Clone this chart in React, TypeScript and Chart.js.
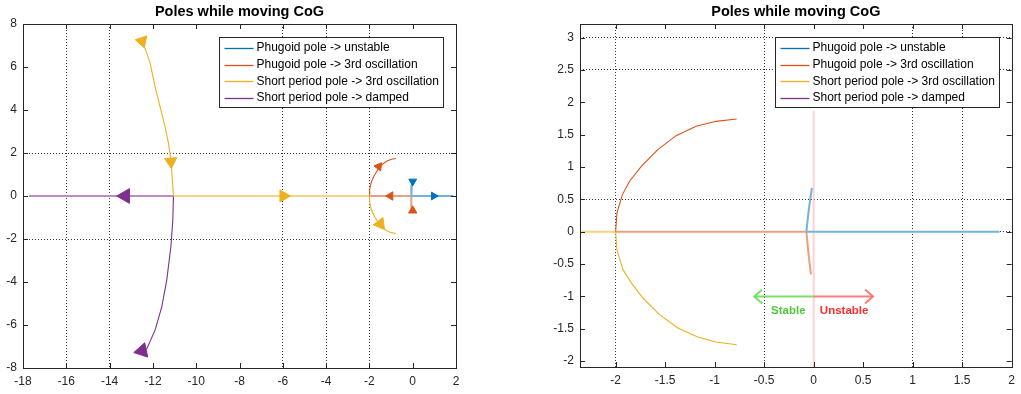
import React, { useEffect, useRef } from 'react';
import { Chart, registerables } from 'chart.js';

Chart.register(...registerables);
Chart.defaults.font.family = '"Liberation Sans", Arial, sans-serif';
Chart.defaults.font.size = 12;
Chart.defaults.color = '#262626';

type Pt = [number, number];
type Arrow = [number, number, number]; // x, y, direction of travel (deg, clockwise from up)

// ---------- series ----------
const seriesLabels = [
  'Phugoid pole -> unstable',
  'Phugoid pole -> 3rd oscillation',
  'Short period pole -> 3rd oscillation',
  'Short period pole -> damped',
];

// Phugoid pole -> unstable
const phugoidUnstableArc: Pt[] = [[-0.018, 0.677], [-0.035, 0.5], [-0.053, 0.29], [-0.073, 0]];
const phugoidUnstableAxis: Pt[] = [[-0.073, 0], [1.877, 0]];
const phugoidUnstableArrows: Arrow[] = [[0.97, 0, 90], [0.0, 0.68, 180]];

// Phugoid pole -> 3rd oscillation
const phugoidOscStart: Pt[] = [[-0.027, -0.66], [-0.04, -0.5], [-0.055, -0.3], [-0.073, 0]];
const phugoidOscAxis: Pt[] = [[-0.073, 0], [-2.0, 0]];
const phugoidOscArc: Pt[] = [
  [-2.0, 0], [-1.987, 0.29], [-1.933, 0.57], [-1.859, 0.78], [-1.741, 1.01],
  [-1.574, 1.27], [-1.389, 1.485], [-1.187, 1.63], [-0.986, 1.706], [-0.778, 1.743],
];
const phugoidOscArrows: Arrow[] = [[0.0, -0.68, 0], [-1.03, 0, 270], [-1.57, 1.37, 37]];

// Short period pole -> 3rd oscillation
const shortOscStart: Pt[] = [
  [-12.5, 7.2], [-12.3, 6.7], [-12.13, 6.18], [-11.9, 5.09], [-11.67, 4.16], [-11.44, 3.23],
  [-11.28, 2.45], [-11.17, 1.68], [-11.1, 0.75], [-11.05, 0],
];
const shortOscAxis: Pt[] = [[-11.05, 0], [-2.0, 0]];
const shortOscArc: Pt[] = [
  [-2.0, 0], [-1.987, -0.277], [-1.926, -0.586], [-1.842, -0.791], [-1.725, -1.024],
  [-1.557, -1.281], [-1.372, -1.487], [-1.171, -1.627], [-0.986, -1.704], [-0.778, -1.745],
];
const shortOscArrows: Arrow[] = [[-12.5, 7.2, 162], [-11.17, 1.6, 176], [-5.97, 0, 90], [-1.5, -1.3, 143]];

// Short period pole -> damped
const shortDampedStart: Pt[] = [
  [-12.5, -7.2], [-12.28, -7.1], [-11.9, -6.24], [-11.59, -5.16], [-11.36, -3.91],
  [-11.17, -2.36], [-11.08, -1.12], [-11.05, 0],
];
const shortDampedAxis: Pt[] = [[-11.05, 0], [-17.72, 0]];
const shortDampedArrows: Arrow[] = [[-13.28, 0, 270], [-12.5, -7.2, 18]];

// ---------- stability annotation (right panel) ----------
const stabilityBoundary: Pt[] = [[0, 1.87], [0, -2.09]];
const stableArrow: Pt[] = [[0, -1], [-0.6, -1]];
const unstableArrow: Pt[] = [[0, -1], [0.6, -1]];
const stabilityTexts = ['Stable', 'Unstable'];
const stabilityTextPos: Pt[] = [[-0.256, -1.22], [0.308, -1.22]];

// ---------- axes ----------
const leftXRange: Pt = [-18, 2];
const leftYRange: Pt = [-8, 8];
const leftXTicks = [-18, -16, -14, -12, -10, -8, -6, -4, -2, 0, 2];
const leftYTicks = [-8, -6, -4, -2, 0, 2, 4, 6, 8];
const leftXGrid = [-16, -14, -6, -4, -2];
const leftYGrid = [-2, 2];

const rightXRange: Pt = [-2.36, 2.0];
const rightYRange: Pt = [-2.09, 3.21];
const rightXTicks = [-2, -1.5, -1, -0.5, 0, 0.5, 1, 1.5, 2];
const rightYTicks = [-2, -1.5, -1, -0.5, 0, 0.5, 1, 1.5, 2, 2.5, 3];
const rightXGrid = [-2, -0.5, 1, 1.5];
const rightYGrid = [0, 0.5, 2.5, 3];

const titleText = 'Poles while moving CoG';

// ---------- styles ----------
const seriesColors = ['#0072BD', '#D95319', '#EDB120', '#7E2F8E'];
const axisSegColors = ['#73b2db', '#eaa080', '#f5d484', '#b88dc1'];
const arrowRadius = [4.5, 4.8, 7, 8.5];
const gridColor = 'rgba(30,30,30,0.9)';
const frameColor = '#262626';
const stableLine = 'rgba(110,220,90,0.9)';
const stableText = '#4fc93a';
const unstableLine = 'rgba(255,110,110,0.9)';
const unstableText = '#ff2d2d';
const boundaryColor = 'rgba(255,190,190,0.7)';

const toXY = (pts: Pt[]) => pts.map(([x, y]) => ({ x, y }));

function lineDs(points: Pt[], color: string, width: number, order = 1) {
  return {
    data: toXY(points),
    showLine: true,
    borderColor: color,
    backgroundColor: color,
    borderWidth: width,
    pointRadius: 0,
    pointHoverRadius: 0,
    tension: 0,
    order,
  };
}

function arrowDs(arrows: Arrow[], color: string, radius: number) {
  return {
    data: arrows.map(([x, y]) => ({ x, y })),
    showLine: false,
    pointStyle: 'triangle',
    pointRadius: radius,
    pointHoverRadius: radius,
    pointRotation: arrows.map((a) => a[2]),
    backgroundColor: color,
    borderColor: color,
    pointBorderWidth: 1,
    order: 0,
  };
}

const framePlugin = {
  id: 'matlabFrame',
  afterDraw(chart: any, _args: any, opts: any) {
    const { ctx, chartArea: a, scales } = chart;
    const xs = scales.x;
    const ys = scales.y;
    ctx.save();

    // stability annotation: arrow heads and labels
    if (opts.stability) {
      ctx.lineWidth = 2;
      const gx = xs.getPixelForValue(stableArrow[1][0]);
      const gy = ys.getPixelForValue(stableArrow[1][1]);
      ctx.strokeStyle = stableLine;
      ctx.beginPath();
      ctx.moveTo(gx + 8, gy - 7);
      ctx.lineTo(gx, gy);
      ctx.lineTo(gx + 8, gy + 7);
      ctx.stroke();
      const rx = xs.getPixelForValue(unstableArrow[1][0]);
      const ry = ys.getPixelForValue(unstableArrow[1][1]);
      ctx.strokeStyle = unstableLine;
      ctx.beginPath();
      ctx.moveTo(rx - 8, ry - 7);
      ctx.lineTo(rx, ry);
      ctx.lineTo(rx - 8, ry + 7);
      ctx.stroke();
      ctx.font = 'bold 11.5px "Liberation Sans", Arial, sans-serif';
      ctx.textAlign = 'center';
      ctx.textBaseline = 'middle';
      stabilityTexts.forEach((t, i) => {
        ctx.fillStyle = i === 0 ? stableText : unstableText;
        ctx.fillText(t, xs.getPixelForValue(stabilityTextPos[i][0]), ys.getPixelForValue(stabilityTextPos[i][1]));
      });
    }

    // inward tick marks on all four sides
    ctx.strokeStyle = frameColor;
    ctx.lineWidth = 1;
    ctx.beginPath();
    for (const t of xs.ticks) {
      const px = Math.round(xs.getPixelForValue(t.value)) + 0.5;
      ctx.moveTo(px, a.bottom);
      ctx.lineTo(px, a.bottom - 5);
      ctx.moveTo(px, a.top);
      ctx.lineTo(px, a.top + 5);
    }
    for (const t of ys.ticks) {
      const py = Math.round(ys.getPixelForValue(t.value)) + 0.5;
      ctx.moveTo(a.left, py);
      ctx.lineTo(a.left + 5, py);
      ctx.moveTo(a.right, py);
      ctx.lineTo(a.right - 5, py);
    }
    ctx.stroke();

    // axes box
    ctx.strokeRect(Math.round(a.left) + 0.5, Math.round(a.top) + 0.5, Math.round(a.right - a.left), Math.round(a.bottom - a.top));

    // legend
    const lw = 224;
    const lh = 70;
    const lx = Math.round(a.right - 13 - lw) + 0.5;
    const ly = Math.round(a.top + 13) + 0.5;
    ctx.fillStyle = '#ffffff';
    ctx.fillRect(lx, ly, lw, lh);
    ctx.strokeStyle = frameColor;
    ctx.strokeRect(lx, ly, lw, lh);
    ctx.font = '12px "Liberation Sans", Arial, sans-serif';
    ctx.textAlign = 'left';
    ctx.textBaseline = 'middle';
    seriesLabels.forEach((label, i) => {
      const y = ly + 10.4 + i * 16.67;
      ctx.strokeStyle = seriesColors[i];
      ctx.lineWidth = 1.3;
      ctx.beginPath();
      ctx.moveTo(lx + 5, Math.round(y) + 0.5);
      ctx.lineTo(lx + 34, Math.round(y) + 0.5);
      ctx.stroke();
      ctx.fillStyle = '#000000';
      ctx.fillText(label, lx + 37, y);
    });

    ctx.restore();
  },
};

interface PanelSpec {
  xRange: Pt;
  yRange: Pt;
  xTicks: number[];
  yTicks: number[];
  xGrid: number[];
  yGrid: number[];
  yWidth: number;
  xHeight: number;
  padRight: number;
  arrows: boolean;
  stability: boolean;
}

function buildConfig(p: PanelSpec): any {
  const datasets: any[] = [];
  if (p.arrows) {
    datasets.push(arrowDs(phugoidUnstableArrows, seriesColors[0], arrowRadius[0]));
    datasets.push(arrowDs(phugoidOscArrows, seriesColors[1], arrowRadius[1]));
    datasets.push(arrowDs(shortOscArrows, seriesColors[2], arrowRadius[2]));
    datasets.push(arrowDs(shortDampedArrows, seriesColors[3], arrowRadius[3]));
  }
  datasets.push(lineDs(phugoidUnstableArc, axisSegColors[0], 2));
  datasets.push(lineDs(phugoidUnstableAxis, axisSegColors[0], 2));
  datasets.push(lineDs(phugoidOscStart, axisSegColors[1], 2));
  datasets.push(lineDs(phugoidOscAxis, axisSegColors[1], 2));
  datasets.push(lineDs(phugoidOscArc, seriesColors[1], 1.1));
  datasets.push(lineDs(shortOscStart, seriesColors[2], 1.1));
  datasets.push(lineDs(shortOscAxis, axisSegColors[2], 2));
  datasets.push(lineDs(shortOscArc, seriesColors[2], 1.1));
  datasets.push(lineDs(shortDampedStart, seriesColors[3], 1.1));
  datasets.push(lineDs(shortDampedAxis, axisSegColors[3], 2));
  if (p.stability) {
    datasets.push(lineDs(stableArrow, stableLine, 2, 2));
    datasets.push(lineDs(unstableArrow, unstableLine, 2, 2));
    datasets.push(lineDs(stabilityBoundary, boundaryColor, 2, 3));
  }

  const gridOpt = (vals: number[]) => ({
    drawTicks: false,
    lineWidth: 1,
    color: (c: any) => (c.tick && vals.includes(c.tick.value) ? gridColor : 'rgba(0,0,0,0)'),
  });

  return {
    type: 'scatter',
    data: { datasets },
    options: {
      animation: false,
      responsive: false,
      events: [],
      layout: { padding: { top: 0, left: 0, bottom: 0, right: p.padRight } },
      plugins: {
        legend: { display: false },
        tooltip: { enabled: false },
        title: {
          display: true,
          text: titleText,
          fullSize: false,
          color: '#000000',
          font: { size: 14.5, weight: 'bold' },
          padding: { top: 3, bottom: 3.6 },
        },
        matlabFrame: { stability: p.stability },
      },
      scales: {
        x: {
          type: 'linear',
          position: 'bottom',
          min: p.xRange[0],
          max: p.xRange[1],
          afterBuildTicks: (s: any) => {
            s.ticks = p.xTicks.map((v) => ({ value: v }));
          },
          afterFit: (s: any) => {
            s.height = p.xHeight;
          },
          ticks: { padding: 6, autoSkip: false, maxRotation: 0, color: '#262626', callback: (v: any) => String(v) },
          grid: gridOpt(p.xGrid),
          border: { display: false, dash: [1, 2] },
        },
        y: {
          type: 'linear',
          position: 'left',
          min: p.yRange[0],
          max: p.yRange[1],
          afterBuildTicks: (s: any) => {
            s.ticks = p.yTicks.map((v) => ({ value: v }));
          },
          afterFit: (s: any) => {
            s.width = p.yWidth;
          },
          ticks: { padding: 6, autoSkip: false, color: '#262626', callback: (v: any) => String(v) },
          grid: gridOpt(p.yGrid),
          border: { display: false, dash: [1, 2] },
        },
      },
    },
    plugins: [framePlugin],
  };
}

const leftPanel: PanelSpec = {
  xRange: leftXRange, yRange: leftYRange, xTicks: leftXTicks, yTicks: leftYTicks,
  xGrid: leftXGrid, yGrid: leftYGrid, yWidth: 23, xHeight: 26, padRight: 64,
  arrows: true, stability: false,
};
const rightPanel: PanelSpec = {
  xRange: rightXRange, yRange: rightYRange, xTicks: rightXTicks, yTicks: rightYTicks,
  xGrid: rightXGrid, yGrid: rightYGrid, yWidth: 60, xHeight: 27, padRight: 7,
  arrows: false, stability: true,
};

function Panel({ spec, left, width }: { spec: PanelSpec; left: number; width: number }) {
  const ref = useRef<HTMLCanvasElement>(null);
  useEffect(() => {
    const chart = new Chart(ref.current as HTMLCanvasElement, buildConfig(spec));
    return () => chart.destroy();
  }, [spec]);
  return (
    <canvas
      ref={ref}
      width={width}
      height={394}
      style={{ position: 'absolute', left, top: 0, width, height: 394 }}
    />
  );
}

export default function App() {
  return (
    <div style={{ position: 'fixed', left: 0, top: 0, width: 1021, height: 394, background: '#ffffff', overflow: 'hidden' }}>
      <Panel spec={leftPanel} left={0} width={520} />
      <Panel spec={rightPanel} left={520} width={501} />
    </div>
  );
}
